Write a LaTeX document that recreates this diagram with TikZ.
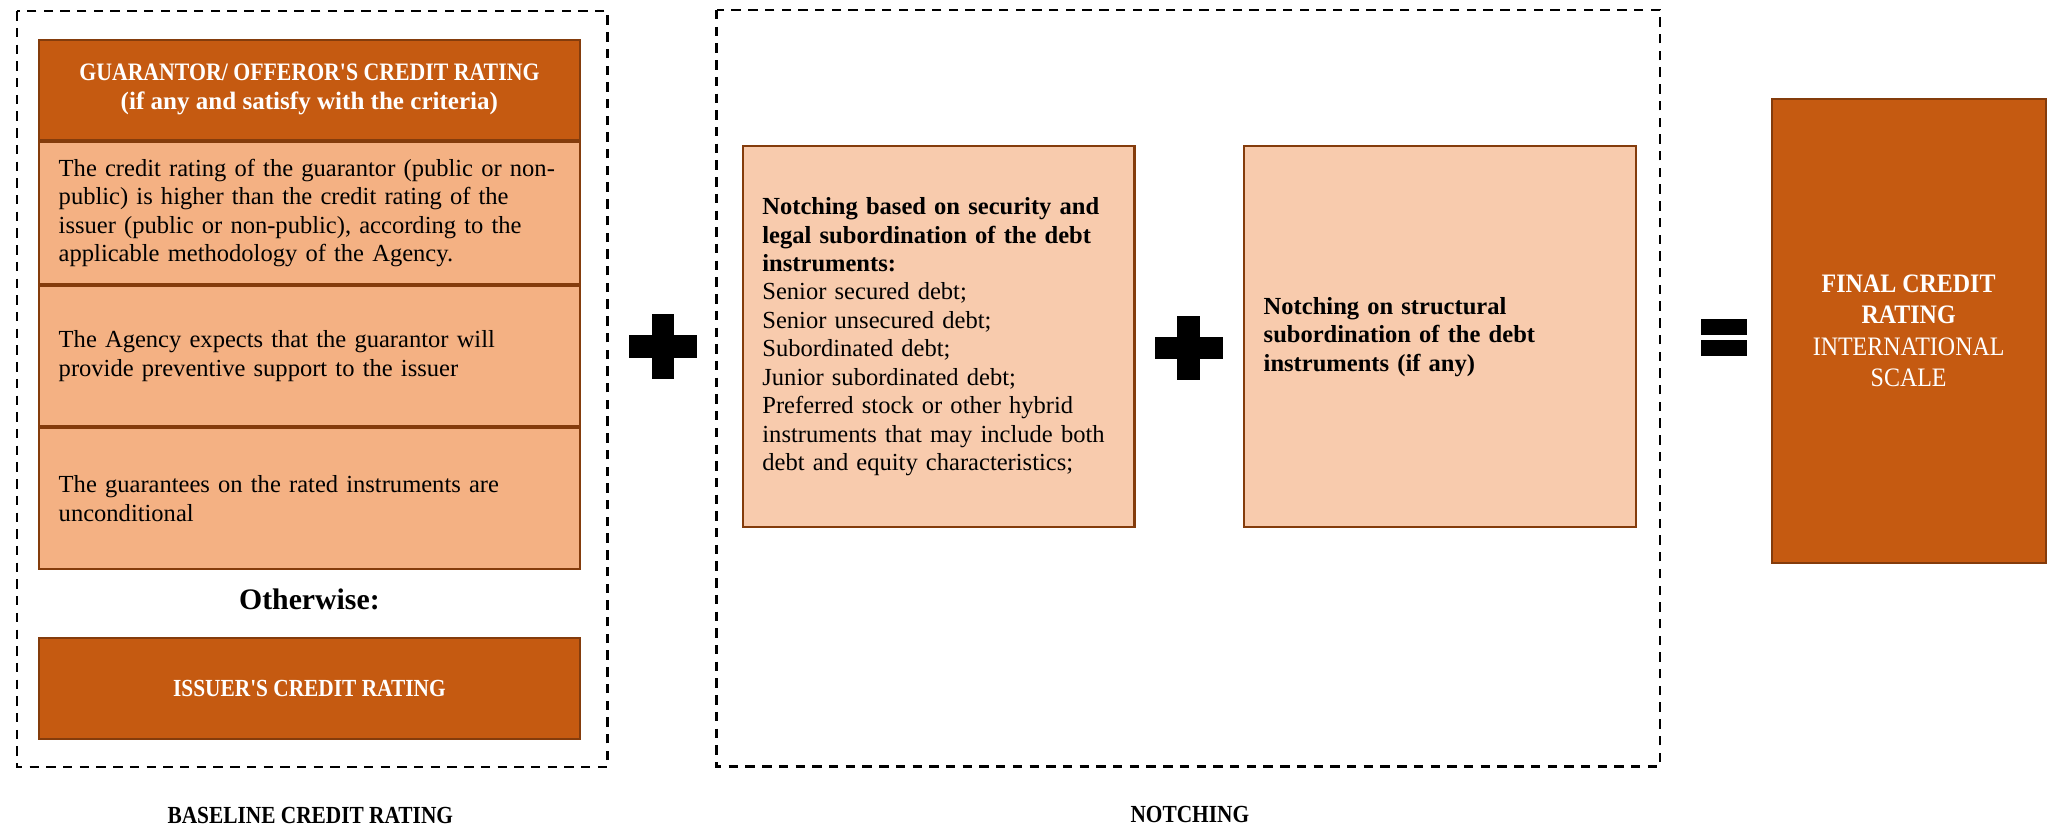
\documentclass[tikz,border=0pt]{standalone}
\usepackage{fontspec}
\setmainfont{Liberation Serif}
\newfontfamily\capsfont[FakeStretch=0.87]{Liberation Serif}
\newfontfamily\finalfont[FakeStretch=0.9]{Liberation Serif}
\usepackage{tikz}
\usetikzlibrary{positioning}
\definecolor{rustorange}{HTML}{C55A11}
\definecolor{rustedge}{HTML}{843C0C}
\definecolor{peach}{HTML}{F4B183}
\definecolor{lightpeach}{HTML}{F8CBAD}
\newcommand{\bodysize}{\fontsize{9.4}{10.9}\selectfont}
\tikzset{
  darkbox/.style={draw=rustedge, fill=rustorange, line width=0.8pt, text=white, align=center},
  critbox/.style={draw=rustedge, fill=peach, line width=0.8pt, inner xsep=7.5pt, text width=192pt, align=left, font=\bodysize},
  notchbox/.style={draw=rustedge, fill=lightpeach, line width=0.8pt, inner xsep=7.5pt, text width=135pt, align=left, minimum height=146pt, font=\bodysize},
  dashbox/.style={draw=black, line width=0.9pt, dash pattern=on 3.6pt off 2.8pt},
  grouplabel/.style={font=\capsfont\bfseries\bodysize, anchor=base}
}

\begin{document}
\begin{tikzpicture}[x=0.5pt,y=-0.5pt]
\useasboundingbox (0,0) rectangle (1568,635);
% dashed groups
\draw[dashbox] (12.8,8.6) rectangle (465.4,587.5);
\draw[dashbox] (548.9,7.7) rectangle (1271.5,587.2);
% baseline credit rating
\node[darkbox, minimum width=207pt, minimum height=38.25pt, font=\bfseries\fontsize{9.6}{11.2}\selectfont] (head) at (237,68.75) {{\capsfont GUARANTOR/ OFFEROR'S CREDIT RATING}\\(if any and satisfy with the criteria)};
\node[critbox, minimum height=54.5pt, below=0pt of head] (crit1) {The credit rating of the guarantor (public or non-\\public) is higher than the credit rating of the\\issuer (public or non-public), according to the\\applicable methodology of the Agency.};
\node[critbox, minimum height=53.5pt, below=0pt of crit1] (crit2) {The Agency expects that the guarantor will\\provide preventive support to the issuer};
\node[critbox, minimum height=54pt, below=0pt of crit2] (crit3) {The guarantees on the rated instruments are\\unconditional};
\node[font=\bfseries\fontsize{11.4}{13}\selectfont] (otherwise) at (237,459) {Otherwise:};
\node[darkbox, minimum width=207pt, minimum height=38.5pt, font=\capsfont\bfseries\bodysize] (issuer) at (237,527.5) {ISSUER'S CREDIT RATING};
% notching
\node[notchbox] (security) at (719,258) {{\bfseries Notching based on security and\\legal subordination of the debt\\instruments:}\\Senior secured debt;\\Senior unsecured debt;\\Subordinated debt;\\Junior subordinated debt;\\Preferred stock or other hybrid\\instruments that may include both\\debt and equity characteristics;};
\node[notchbox] (structural) at (1103,258) {\bfseries Notching on structural\\subordination of the debt\\instruments (if any)};
% final
\node[darkbox, minimum width=105pt, minimum height=177.7pt, font=\finalfont\fontsize{10.2}{12}\selectfont] (final) at (1462,253.3) {\textbf{FINAL CREDIT}\\\textbf{RATING}\\INTERNATIONAL\\SCALE};
% plus and equals signs
\foreach \cx/\cy in {508/265.3, 910.5/266.7} {
  \fill[black] (\cx-26,\cy-8.6) rectangle (\cx+26,\cy+8.6);
  \fill[black] (\cx-8.6,\cy-24.7) rectangle (\cx+8.6,\cy+24.7);
}
\foreach \ey in {244.2, 260.3} {
  \fill[black] (1303,\ey) rectangle (1338.5,\ey+12.4);
}
% group labels
\node[grouplabel] (baselbl) at (237.7,631) {BASELINE CREDIT RATING};
\node[grouplabel] (notchlbl) at (911.4,630) {NOTCHING};
\end{tikzpicture}
\end{document}
